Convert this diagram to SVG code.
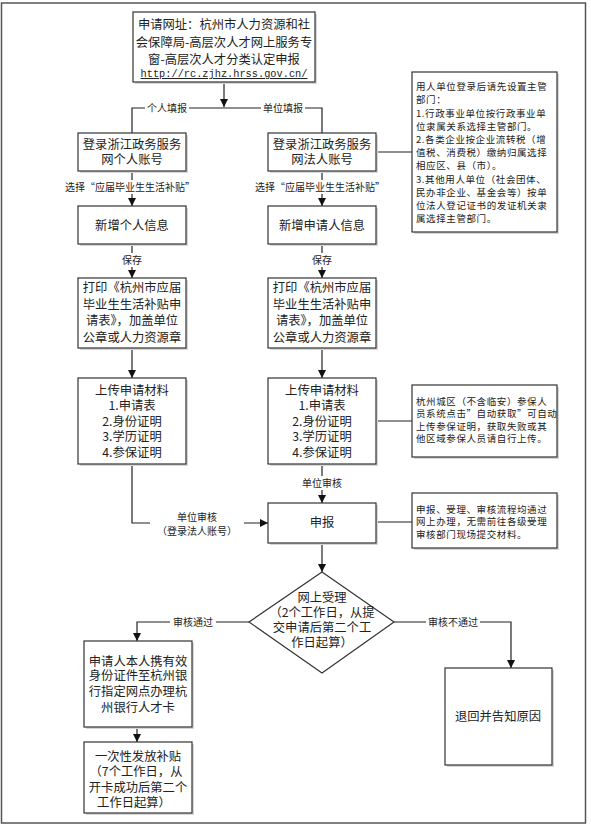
<svg xmlns="http://www.w3.org/2000/svg" width="591" height="828" viewBox="0 0 591 828">
<style>
.box{fill:#fff;stroke:#333;stroke-width:1.2}
.sh{fill:#d6d6d6}
.ln{fill:none;stroke:#222;stroke-width:1.2}
.t{font-family:"Noto Sans CJK SC","Noto Sans",sans-serif;font-size:12.3px;fill:#222;text-anchor:middle}
.s{font-family:"Noto Sans CJK SC","Noto Sans",sans-serif;font-size:10px;fill:#222;text-anchor:middle}
.n{font-family:"Noto Sans CJK SC","Noto Sans",sans-serif;font-size:9.5px;letter-spacing:0.6px;fill:#222}
.u{font-family:"Liberation Mono",monospace;font-size:10.3px;fill:#222;text-anchor:middle;text-decoration:underline}
.bg{fill:#fff}
</style>
<defs>
<marker id="ar" markerWidth="8" markerHeight="8" refX="8" refY="4" orient="auto" markerUnits="userSpaceOnUse">
<path d="M0,0 L8,4 L0,8 z" fill="#111"/>
</marker>
</defs>
<rect x="1.5" y="3" width="584" height="820" fill="#fff" stroke="#555" stroke-width="1.5"/>

<g id="connectors">
<line class="ln" x1="224" y1="82" x2="224" y2="107" marker-end="url(#ar)"/>
<polyline class="ln" points="132,133 132,108 322,108 322,133"/>
<line class="ln" x1="376" y1="152" x2="412" y2="152"/>
<line class="ln" x1="132" y1="171" x2="132" y2="206" marker-end="url(#ar)"/>
<line class="ln" x1="322" y1="171" x2="322" y2="206" marker-end="url(#ar)"/>
<line class="ln" x1="132" y1="244" x2="132" y2="278" marker-end="url(#ar)"/>
<line class="ln" x1="322" y1="244" x2="322" y2="278" marker-end="url(#ar)"/>
<line class="ln" x1="132" y1="348" x2="132" y2="378" marker-end="url(#ar)"/>
<line class="ln" x1="322" y1="348" x2="322" y2="378" marker-end="url(#ar)"/>
<line class="ln" x1="376" y1="421" x2="412" y2="421"/>
<line class="ln" x1="322" y1="464" x2="322" y2="503" marker-end="url(#ar)"/>
<polyline class="ln" points="132,464 132,523 268,523" marker-end="url(#ar)"/>
<line class="ln" x1="376" y1="522" x2="412" y2="522"/>
<line class="ln" x1="322" y1="543" x2="322" y2="572" marker-end="url(#ar)"/>
<polyline class="ln" points="249,622 137,622 137,641" marker-end="url(#ar)"/>
<polyline class="ln" points="394,622 511,622 511,668" marker-end="url(#ar)"/>
<line class="ln" x1="137" y1="727" x2="137" y2="742" marker-end="url(#ar)"/>
<!-- labels -->
<rect class="bg" x="145" y="101" width="44" height="13"/>
<text class="s" x="167" y="111.5">个人填报</text>
<rect class="bg" x="261" y="101" width="44" height="13"/>
<text class="s" x="283" y="111.5">单位填报</text>
<rect class="bg" x="65" y="180" width="130" height="14"/>
<text class="s" x="130" y="190.5">选择“应届毕业生生活补贴”</text>
<rect class="bg" x="256" y="180" width="130" height="14"/>
<text class="s" x="320" y="190.5">选择“应届毕业生生活补贴”</text>
<rect class="bg" x="120" y="253" width="24" height="14"/>
<text class="s" x="132" y="263.5">保存</text>
<rect class="bg" x="310" y="253" width="24" height="14"/>
<text class="s" x="322" y="263.5">保存</text>
<rect class="bg" x="299" y="476" width="46" height="14"/>
<text class="s" x="322" y="486.5">单位审核</text>
<rect class="bg" x="150" y="510" width="94" height="28"/>
<text class="s" x="197" y="520.5">单位审核</text>
<text class="s" x="197" y="534.5">（登录法人账号）</text>
<rect class="bg" x="170" y="615" width="46" height="14"/>
<text class="s" x="193" y="625.5">审核通过</text>
<rect class="bg" x="426" y="615" width="54" height="14"/>
<text class="s" x="453" y="625.5">审核不通过</text>
</g>

<g id="top">
<rect class="sh" x="135" y="14" width="182" height="70"/>
<rect class="box" x="133" y="12" width="182" height="70"/>
<text class="t" x="224" y="28.5">申请网址：杭州市人力资源和社</text>
<text class="t" x="224" y="46.5">会保障局-高层次人才网上服务专</text>
<text class="t" x="224" y="63.5">窗-高层次人才分类认定申报</text>
<text class="u" x="224" y="77">http://rc.zjhz.hrss.gov.cn/</text>
</g>

<g id="login-personal">
<rect class="sh" x="80" y="135" width="108" height="38"/>
<rect class="box" x="78" y="133" width="108" height="38"/>
<text class="t" x="132" y="148.5">登录浙江政务服务</text>
<text class="t" x="132" y="163.5">网个人账号</text>
</g>
<g id="login-unit">
<rect class="sh" x="270" y="135" width="108" height="38"/>
<rect class="box" x="268" y="133" width="108" height="38"/>
<text class="t" x="322" y="148.5">登录浙江政务服务</text>
<text class="t" x="322" y="163.5">网法人账号</text>
</g>

<g id="note1">
<rect class="sh" x="414" y="74" width="145" height="160"/>
<rect class="box" x="412" y="72" width="145" height="160"/>
<text class="n" x="416" y="90.2">用人单位登录后请先设置主管</text>
<text class="n" x="416" y="103.4">部门：</text>
<text class="n" x="416" y="116.6">1.行政事业单位按行政事业单</text>
<text class="n" x="416" y="129.8">位隶属关系选择主管部门。</text>
<text class="n" x="416" y="143">2.各类企业按企业流转税（增</text>
<text class="n" x="416" y="156.2">值税、消费税）缴纳归属选择</text>
<text class="n" x="416" y="169.4">相应区、县（市）。</text>
<text class="n" x="416" y="182.6">3.其他用人单位（社会团体、</text>
<text class="n" x="416" y="195.8">民办非企业、基金会等）按单</text>
<text class="n" x="416" y="209">位法人登记证书的发证机关隶</text>
<text class="n" x="416" y="222.2">属选择主管部门。</text>
</g>

<g id="info-personal">
<rect class="sh" x="80" y="208" width="108" height="38"/>
<rect class="box" x="78" y="206" width="108" height="38"/>
<text class="t" x="132" y="229.5">新增个人信息</text>
</g>
<g id="info-unit">
<rect class="sh" x="270" y="208" width="108" height="38"/>
<rect class="box" x="268" y="206" width="108" height="38"/>
<text class="t" x="322" y="229.5">新增申请人信息</text>
</g>

<g id="print-personal">
<rect class="sh" x="80" y="280" width="108" height="70"/>
<rect class="box" x="78" y="278" width="108" height="70"/>
<text class="t" x="132" y="292">打印《杭州市应届</text>
<text class="t" x="132" y="308.5">毕业生生活补贴申</text>
<text class="t" x="132" y="325">请表》，加盖单位</text>
<text class="t" x="132" y="341.5">公章或人力资源章</text>
</g>
<g id="print-unit">
<rect class="sh" x="270" y="280" width="108" height="70"/>
<rect class="box" x="268" y="278" width="108" height="70"/>
<text class="t" x="322" y="292">打印《杭州市应届</text>
<text class="t" x="322" y="308.5">毕业生生活补贴申</text>
<text class="t" x="322" y="325">请表》，加盖单位</text>
<text class="t" x="322" y="341.5">公章或人力资源章</text>
</g>

<g id="upload-personal">
<rect class="sh" x="80" y="380" width="108" height="86"/>
<rect class="box" x="78" y="378" width="108" height="86"/>
<text class="t" x="132" y="395">上传申请材料</text>
<text class="t" x="132" y="410">1.申请表</text>
<text class="t" x="132" y="425.5">2.身份证明</text>
<text class="t" x="132" y="441">3.学历证明</text>
<text class="t" x="132" y="456.5">4.参保证明</text>
</g>
<g id="upload-unit">
<rect class="sh" x="270" y="380" width="108" height="86"/>
<rect class="box" x="268" y="378" width="108" height="86"/>
<text class="t" x="322" y="395">上传申请材料</text>
<text class="t" x="322" y="410">1.申请表</text>
<text class="t" x="322" y="425.5">2.身份证明</text>
<text class="t" x="322" y="441">3.学历证明</text>
<text class="t" x="322" y="456.5">4.参保证明</text>
</g>

<g id="note2">
<rect class="sh" x="414" y="387" width="145" height="72"/>
<rect class="box" x="412" y="385" width="145" height="72"/>
<text class="n" x="416" y="404.5">杭州城区（不含临安）参保人</text>
<text class="n" x="416" y="417">员系统点击”自动获取”可自动</text>
<text class="n" x="416" y="429.5">上传参保证明，获取失败或其</text>
<text class="n" x="416" y="442">他区域参保人员请自行上传。</text>
</g>

<g id="submit">
<rect class="sh" x="270" y="505" width="108" height="40"/>
<rect class="box" x="268" y="503" width="108" height="40"/>
<text class="t" x="322" y="526.5">申报</text>
</g>

<g id="note3">
<rect class="sh" x="414" y="495" width="145" height="55"/>
<rect class="box" x="412" y="493" width="145" height="55"/>
<text class="n" x="416" y="512.5">申报、受理、审核流程均通过</text>
<text class="n" x="416" y="525">网上办理，无需前往各级受理</text>
<text class="n" x="416" y="537.5">审核部门现场提交材料。</text>
</g>

<g id="accept">
<polygon class="box" points="322,572 394,622 322,673 249,622"/>
<text class="t" x="322" y="602">网上受理</text>
<text class="t" x="322" y="617">（2个工作日，从提</text>
<text class="t" x="322" y="632">交申请后第二个工</text>
<text class="t" x="322" y="647">作日起算）</text>
</g>

<g id="bank-card">
<rect class="sh" x="86" y="643" width="108" height="86"/>
<rect class="box" x="84" y="641" width="108" height="86"/>
<text class="t" x="138" y="665.5">申请人本人携有效</text>
<text class="t" x="138" y="680">身份证件至杭州银</text>
<text class="t" x="138" y="696">行指定网点办理杭</text>
<text class="t" x="138" y="711.5">州银行人才卡</text>
</g>

<g id="pay">
<rect class="sh" x="86" y="744" width="108" height="71"/>
<rect class="box" x="84" y="742" width="108" height="71"/>
<text class="t" x="138" y="760.5">一次性发放补贴</text>
<text class="t" x="136" y="775.5">（7个工作日，从</text>
<text class="t" x="138" y="791.5">开卡成功后第二个</text>
<text class="t" x="134" y="806.5">工作日起算）</text>
</g>

<g id="reject">
<rect class="sh" x="447" y="670" width="107" height="97"/>
<rect class="box" x="445" y="668" width="107" height="97"/>
<text class="t" x="498" y="721">退回并告知原因</text>
</g>
</svg>
